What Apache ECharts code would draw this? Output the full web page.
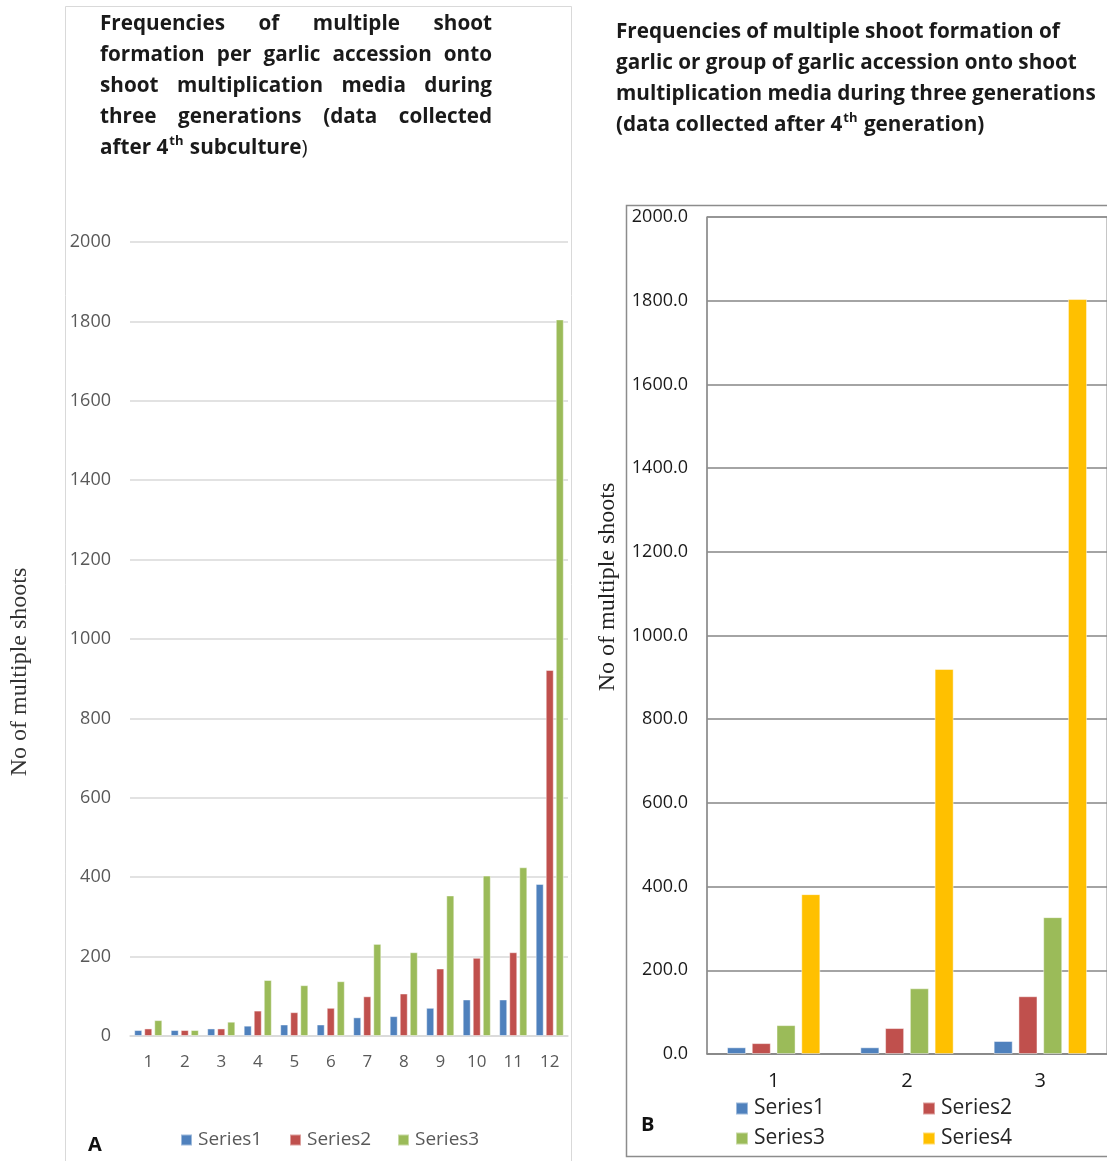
<!DOCTYPE html>
<html>
<head>
<meta charset="utf-8">
<script src="https://cdn.jsdelivr.net/npm/echarts@6/dist/echarts.min.js"></script>
<style>
  html, body { margin: 0; padding: 0; background: #ffffff; }
  #chart { width: 1107px; height: 1161px; }
</style>
</head>
<body>
<div id="chart"></div>
<script>
// Panel A: multiple shoots per garlic accession (12 accessions)
const categoriesA = ['1', '2', '3', '4', '5', '6', '7', '8', '9', '10', '11', '12'];
const seriesA1 = [15, 15, 19, 26, 29, 29, 47, 50, 71, 92, 92, 383];
const seriesA2 = [19, 15, 19, 64, 60, 71, 100, 107, 170, 197, 211, 922];
const seriesA3 = [40, 15, 36, 141, 128, 138, 232, 211, 354, 404, 425, 1805];

// Panel B: multiple shoots per garlic group (3 groups)
const categoriesB = ['1', '2', '3'];
const seriesB1 = [16, 16, 31];
const seriesB2 = [26, 62, 138];
const seriesB3 = [69, 157, 327];
const seriesB4 = [382, 920, 1804];

// Value axis ticks shared by both panels
const yMin = 0;
const yMax = 2000;
const yStep = 200;

const seriesNamesA = ['Series1', 'Series2', 'Series3'];
const seriesNamesB = ['Series1', 'Series2', 'Series3', 'Series4'];
const colors = ['#4F81BD', '#C0504D', '#9BBB59', '#FFC000'];

const SANS = '"Open Sans"';
const SERIF = '"Liberation Serif", "DejaVu Serif", serif';

const chart = echarts.init(document.getElementById('chart'));

const measureCtx = document.createElement('canvas').getContext('2d');
function textWidth(str, font) {
  measureCtx.font = font;
  return measureCtx.measureText(str).width;
}

// heading size: widest line of the right heading spans 481px
const headRef = 'multiplication media during three generations';
const headSize = Math.round(20 * 481 / textWidth(headRef, 'bold 20px ' + SANS) * 10) / 10;
const headFont = 'bold ' + headSize + 'px ' + SANS;
const headRegular = headSize + 'px ' + SANS;
const supFont = 'bold ' + Math.round(headSize * 0.62) + 'px ' + SANS;

const graphics = [];
function addText(x, y, str, font, fill, extra) {
  graphics.push(Object.assign({
    type: 'text',
    x: x,
    y: y,
    silent: true,
    style: { text: str, font: font, fill: fill || '#1a1a1a', align: 'left', verticalAlign: 'middle' }
  }, extra || {}));
}

function justifiedLine(text, x0, x1, y) {
  const words = text.split(' ');
  const widths = words.map(w => textWidth(w, headFont));
  const total = widths.reduce((a, b) => a + b, 0);
  const gap = (x1 - x0 - total) / (words.length - 1);
  let x = x0;
  words.forEach((w, i) => {
    addText(x, y, w, headFont);
    x += widths[i] + gap;
  });
}

// line with a superscript ordinal: before + sup + after (+ regular tail)
function supLine(x, y, before, sup, after, afterTail) {
  addText(x, y, before, headFont);
  let cx = x + textWidth(before, headFont);
  addText(cx + 1, y - 7, sup, supFont);
  cx += textWidth(sup, supFont) + 2;
  addText(cx, y, after, headFont);
  if (afterTail) {
    cx += textWidth(after, headFont);
    addText(cx, y, afterTail, headRegular);
  }
}

// Panel A heading (justified block)
const headA = [
  'Frequencies of multiple shoot',
  'formation per garlic accession onto',
  'shoot multiplication media during',
  'three generations (data collected'
];
headA.forEach((line, i) => justifiedLine(line, 100, 492, 24 + i * 31));
supLine(100, 148, 'after 4', 'th', ' subculture', ')');

// Panel B heading
const headB = [
  'Frequencies of multiple shoot formation of',
  'garlic or group of garlic accession onto shoot',
  'multiplication media during three generations'
];
headB.forEach((line, i) => addText(616, 32 + i * 31, line, headFont));
supLine(616, 125, '(data collected after 4', 'th', ' generation)');

// value axis titles
function axisTitle(x, y, fill) {
  graphics.push({
    type: 'text', x: x, y: y, rotation: Math.PI / 2, silent: true,
    style: { text: 'No of multiple shoots', font: '24px ' + SERIF, fill: fill, align: 'center', verticalAlign: 'middle' }
  });
}
axisTitle(20, 672, '#333333');
axisTitle(608, 587, '#222222');

// panel letters
addText(88, 1145, 'A', 'bold 20px ' + SANS, '#111111');
addText(641, 1125, 'B', 'bold 20px ' + SANS, '#111111');

// panel frames
graphics.push({
  type: 'rect', silent: true, z: -1,
  shape: { x: 65.5, y: 6.5, width: 506, height: 1200 },
  style: { fill: 'none', stroke: '#d9d9d9', lineWidth: 1 }
});
graphics.push({
  type: 'rect', silent: true, z: -1,
  shape: { x: 626.5, y: 205.5, width: 520, height: 951 },
  style: { fill: 'none', stroke: '#8c8c8c', lineWidth: 1.5 }
});

function barSeries(name, data, idx, colorIdx, gap, catGap) {
  return {
    name: name,
    type: 'bar',
    xAxisIndex: idx,
    yAxisIndex: idx,
    data: data,
    barGap: gap,
    barCategoryGap: catGap,
    itemStyle: { color: colors[colorIdx], borderColor: 'rgba(255,255,255,0.45)', borderWidth: 1 },
    emphasis: { disabled: true }
  };
}

function legendItem(name, left, top, size, iconSize, color) {
  return {
    data: [name],
    left: left,
    top: top,
    padding: 0,
    itemWidth: iconSize,
    itemHeight: iconSize,
    icon: 'rect',
    selectedMode: false,
    textStyle: { fontFamily: SANS, fontSize: size, color: color, lineHeight: 20, padding: [0, 0, 0, 1] }
  };
}

const option = {
  animation: false,
  backgroundColor: '#ffffff',
  color: colors,
  legend: [
    legendItem('Series1', 180, 1130, 19, 11, '#595959'),
    legendItem('Series2', 289, 1130, 19, 11, '#595959'),
    legendItem('Series3', 397, 1130, 19, 11, '#595959'),
    legendItem('Series1', 735, 1098, 21, 12, '#262626'),
    legendItem('Series2', 922, 1098, 21, 12, '#262626'),
    legendItem('Series3', 735, 1128, 21, 12, '#262626'),
    legendItem('Series4', 922, 1128, 21, 12, '#262626')
  ],
  grid: [
    { left: 130, top: 242, width: 438, height: 794 },
    { left: 707, top: 217, width: 401, height: 837, show: true, borderColor: '#8c8c8c', borderWidth: 1 }
  ],
  xAxis: [
    {
      type: 'category', gridIndex: 0, data: categoriesA,
      axisLine: { lineStyle: { color: '#d9d9d9', width: 1.5 } },
      axisTick: { show: false },
      axisLabel: { color: '#595959', fontFamily: SANS, fontSize: 17, margin: 18 }
    },
    {
      type: 'category', gridIndex: 1, data: categoriesB,
      axisLine: { lineStyle: { color: '#868686', width: 1.5 } },
      axisTick: { show: false },
      axisLabel: { color: '#1a1a1a', fontFamily: SANS, fontSize: 20, margin: 17 }
    }
  ],
  yAxis: [
    {
      type: 'value', gridIndex: 0, min: yMin, max: yMax, interval: yStep,
      axisLine: { show: false }, axisTick: { show: false },
      splitLine: { lineStyle: { color: '#d9d9d9', width: 1.5 } },
      axisLabel: { color: '#595959', fontFamily: SANS, fontSize: 18, margin: 19, formatter: v => String(v) }
    },
    {
      type: 'value', gridIndex: 1, min: yMin, max: yMax, interval: yStep,
      axisLine: { show: true, lineStyle: { color: '#8c8c8c', width: 1.5 } },
      axisTick: { show: false },
      splitLine: { lineStyle: { color: '#868686', width: 1.5 } },
      axisLabel: { color: '#1a1a1a', fontFamily: SANS, fontSize: 18, margin: 19, formatter: v => v.toFixed(1) }
    }
  ],
  series: [
    barSeries(seriesNamesA[0], seriesA1, 0, 0, '25%', '23%'),
    barSeries(seriesNamesA[1], seriesA2, 0, 1, '25%', '23%'),
    barSeries(seriesNamesA[2], seriesA3, 0, 2, '25%', '23%'),
    barSeries(seriesNamesB[0], seriesB1, 1, 0, '30%', '30%'),
    barSeries(seriesNamesB[1], seriesB2, 1, 1, '30%', '30%'),
    barSeries(seriesNamesB[2], seriesB3, 1, 2, '30%', '30%'),
    barSeries(seriesNamesB[3], seriesB4, 1, 3, '30%', '30%')
  ],
  graphic: graphics
};

chart.setOption(option);
</script>
</body>
</html>
